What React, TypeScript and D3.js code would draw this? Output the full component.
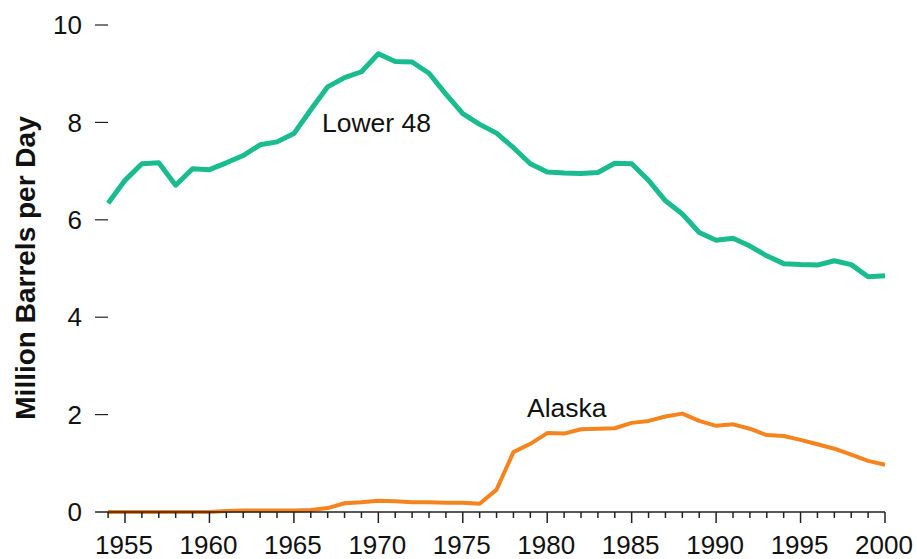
import React, { useEffect, useRef } from "react";
import * as d3 from "d3";

// 연도 (1954 ~ 2000)
const years: number[] = d3.range(1954, 2001);

// Lower 48 원유 생산량 (백만 배럴/일)
const lower48: number[] = [
  6.34, 6.81, 7.15, 7.17, 6.71, 7.05, 7.03, 7.17, 7.32, 7.54,
  7.6, 7.77, 8.26, 8.73, 8.92, 9.04, 9.41, 9.25, 9.24, 9.01,
  8.58, 8.18, 7.96, 7.78, 7.48, 7.15, 6.98, 6.96, 6.95, 6.97,
  7.16, 7.15, 6.81, 6.39, 6.12, 5.74, 5.58, 5.62, 5.46, 5.26,
  5.1, 5.08, 5.07, 5.16, 5.08, 4.83, 4.85,
];

// Alaska 원유 생산량 (백만 배럴/일)
const alaska: number[] = [
  0.0, 0.0, 0.0, 0.0, 0.0, 0.0, 0.0, 0.02, 0.03, 0.03,
  0.03, 0.03, 0.04, 0.08, 0.18, 0.2, 0.23, 0.22, 0.2, 0.2,
  0.19, 0.19, 0.17, 0.46, 1.23, 1.4, 1.62, 1.61, 1.7, 1.71,
  1.72, 1.83, 1.87, 1.96, 2.02, 1.87, 1.77, 1.8, 1.71, 1.58,
  1.56, 1.48, 1.39, 1.3, 1.18, 1.05, 0.97,
];

const yTicks: number[] = [0, 2, 4, 6, 8, 10];
const xLabelTicks: number[] = [1955, 1960, 1965, 1970, 1975, 1980, 1985, 1990, 1995, 2000];

const WIDTH = 917;
const HEIGHT = 559;
const FONT = "'Liberation Sans', Arial, sans-serif";

const App: React.FC = () => {
  const svgRef = useRef<SVGSVGElement>(null);

  useEffect(() => {
    document.body.style.margin = "0";
    if (!svgRef.current) return;

    const svg = d3.select(svgRef.current);
    svg.selectAll("*").remove();

    // 스케일
    const x = d3.scaleLinear().domain([1955, 2000]).range([125, 885]);
    const y = d3.scaleLinear().domain([0, 10]).range([512, 25]);

    const green = "#1abc8f";
    const orange = "#f5841f";

    const line = d3
      .line<number>()
      .x((_, i) => x(years[i]))
      .y((d) => y(d))
      .curve(d3.curveLinear);

    // 라인
    svg
      .append("path")
      .datum(lower48)
      .attr("d", line)
      .attr("fill", "none")
      .attr("stroke", green)
      .attr("stroke-width", 5)
      .attr("stroke-linejoin", "round");

    svg
      .append("path")
      .datum(alaska)
      .attr("d", line)
      .attr("fill", "none")
      .attr("stroke", orange)
      .attr("stroke-width", 4)
      .attr("stroke-linejoin", "round");

    // X축
    const axisStart = x(years[0]) - 13;
    const xAxis = svg.append("g");
    xAxis
      .append("line")
      .attr("x1", axisStart)
      .attr("x2", x(2000))
      .attr("y1", y(0))
      .attr("y2", y(0))
      .attr("stroke", "#222")
      .attr("stroke-width", 1.5);

    xAxis
      .selectAll("line.tick")
      .data(years)
      .join("line")
      .attr("class", "tick")
      .attr("x1", (d) => x(d))
      .attr("x2", (d) => x(d))
      .attr("y1", y(0))
      .attr("y2", (d) => y(0) + (d % 5 === 0 ? 11 : 6))
      .attr("stroke", "#222")
      .attr("stroke-width", 1.5);

    xAxis
      .selectAll("text")
      .data(xLabelTicks)
      .join("text")
      .attr("x", (d) => x(d) - 1)
      .attr("y", 554)
      .attr("text-anchor", "middle")
      .style("font-family", FONT)
      .style("font-size", "26px")
      .style("fill", "#111")
      .text((d) => d);

    // Y축 (눈금 대시 + 라벨)
    const yAxis = svg.append("g");
    yAxis
      .selectAll("line")
      .data(yTicks.filter((d) => d > 0))
      .join("line")
      .attr("x1", 95)
      .attr("x2", 108)
      .attr("y1", (d) => y(d))
      .attr("y2", (d) => y(d))
      .attr("stroke", "#222")
      .attr("stroke-width", 1.2);

    yAxis
      .selectAll("text")
      .data(yTicks)
      .join("text")
      .attr("x", 82)
      .attr("y", (d) => y(d))
      .attr("dy", "0.35em")
      .attr("text-anchor", "end")
      .style("font-family", FONT)
      .style("font-size", "26px")
      .style("fill", "#111")
      .text((d) => d);

    // 축 제목
    svg
      .append("text")
      .attr("transform", "translate(35, 268) rotate(-90)")
      .attr("text-anchor", "middle")
      .style("font-family", FONT)
      .style("font-size", "28px")
      .style("font-weight", "bold")
      .style("fill", "#111")
      .text("Million Barrels per Day");

    // 시리즈 라벨
    svg
      .append("text")
      .attr("x", 322)
      .attr("y", 132)
      .style("font-family", FONT)
      .style("font-size", "26.5px")
      .style("fill", "#111")
      .text("Lower 48");

    svg
      .append("text")
      .attr("x", 527)
      .attr("y", 417)
      .style("font-family", FONT)
      .style("font-size", "26.5px")
      .style("fill", "#111")
      .text("Alaska");
  }, []);

  return (
    <svg
      ref={svgRef}
      width={WIDTH}
      height={HEIGHT}
      style={{ display: "block", background: "#fff" }}
    />
  );
};

export default App;
